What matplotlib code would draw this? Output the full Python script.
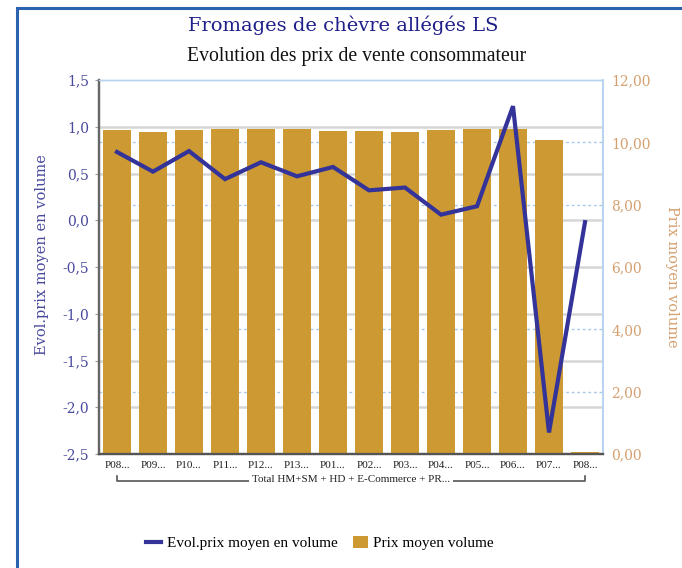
import matplotlib
matplotlib.use("Agg")
import matplotlib.pyplot as plt
import matplotlib.transforms as mtransforms
from matplotlib.patches import Rectangle, Patch
from matplotlib.lines import Line2D

# donnees
periodes = ["P08...", "P09...", "P10...", "P11...", "P12...", "P13...", "P01...",
            "P02...", "P03...", "P04...", "P05...", "P06...", "P07...", "P08..."]
prix_moyen = [10.39, 10.33, 10.39, 10.43, 10.43, 10.43, 10.36,
              10.36, 10.33, 10.39, 10.43, 10.43, 10.07, 0.05]
evol_prix = [0.73, 0.52, 0.74, 0.44, 0.62, 0.47, 0.57,
             0.32, 0.35, 0.06, 0.15, 1.22, -2.27, -0.02]
ticks_gauche = [1.5, 1.0, 0.5, 0.0, -0.5, -1.0, -1.5, -2.0, -2.5]
ticks_droite = [0, 2, 4, 6, 8, 10, 12]
groupe = "Total HM+SM + HD + E-Commerce + PR..."

c_barre = "#cc9933"
c_ligne = "#333399"
c_gauche = "#4a4a9e"
c_droite = "#d4a070"

fig = plt.figure(figsize=(6.82, 5.68), dpi=100)

# cadre bleu
fig.patches.append(Rectangle((17 / 682, -0.05), 1.0, 1 - 8 / 568 + 0.05,
                             transform=fig.transFigure, fill=False,
                             edgecolor="#2a62b0", linewidth=2.2))

pos = [99 / 682, (568 - 454) / 568, (603 - 99) / 682, (454 - 80) / 568]
ax_b = fig.add_axes(pos)          # barres, axe de droite
ax_l = ax_b.twinx()               # ligne, axe de gauche

x = list(range(len(periodes)))
ax_b.bar(x, prix_moyen, width=0.8, color=c_barre, zorder=3)
ax_b.set_xlim(-0.5, len(periodes) - 0.5)
ax_b.set_ylim(0, 12)

ax_l.plot(x, evol_prix, color=c_ligne, linewidth=3, solid_joinstyle="miter")
ax_l.set_ylim(-2.5, 1.5)

# axe gauche pour la ligne
ax_l.yaxis.tick_left()
ax_l.yaxis.set_label_position("left")
ax_l.set_yticks(ticks_gauche)
ax_l.set_yticklabels([f"{v:.1f}".replace(".", ",") for v in ticks_gauche],
                     fontfamily="DejaVu Serif", fontsize=10, color=c_gauche)
ax_l.tick_params(axis="y", length=3, color="#999999", pad=4)

# axe droit pour les barres
ax_b.yaxis.tick_right()
ax_b.set_yticks(ticks_droite)
ax_b.set_yticklabels([f"{v:.2f}".replace(".", ",") for v in ticks_droite],
                     fontfamily="DejaVu Serif", fontsize=10, color=c_droite)
ax_b.tick_params(axis="y", length=0, pad=6)

# grilles : pointilles bleus (droite), gris plein (gauche) derriere les barres
for v in ticks_droite[1:-1]:
    ax_b.axhline(v, color="#a9c9ea", linewidth=1, linestyle=(0, (2, 2)), zorder=1)
tr = mtransforms.blended_transform_factory(ax_b.transAxes, ax_l.transData)
for v in ticks_gauche[1:-1]:
    ax_b.plot([0, 1], [v, v], transform=tr, color="#d6d6d6", linewidth=1.8, zorder=1)

ax_b.set_xticks(x)
ax_b.set_xticklabels(periodes, fontfamily="Liberation Serif", fontsize=8, color="#222222")
ax_b.tick_params(axis="x", length=0, pad=5)

for a in (ax_b, ax_l):
    a.spines["left"].set_color("#666666")
    a.spines["left"].set_linewidth(1.6)
    a.spines["bottom"].set_color("#555555")
    a.spines["bottom"].set_linewidth(1.6)
    a.spines["right"].set_color("#b7d3ef")
    a.spines["right"].set_linewidth(1.2)
    a.spines["top"].set_color("#b7d3ef")
    a.spines["top"].set_linestyle((0, (2, 1)))
    a.spines["top"].set_linewidth(1)

# etiquette de groupe avec crochet
trx = mtransforms.blended_transform_factory(ax_b.transData, ax_b.transAxes)
yb = -0.072
ax_b.plot([0, 0, 13, 13], [yb + 0.012, yb, yb, yb + 0.012], transform=trx,
          color="#555555", linewidth=1.2, clip_on=False)
ax_b.text(6.5, yb + 0.004, groupe, transform=trx, ha="center", va="center",
          fontfamily="Liberation Serif", fontsize=8, color="#222222",
          bbox=dict(facecolor="white", edgecolor="none", pad=2))

# titres
fig.text(343 / 682, 1 - 25 / 568, "Fromages de chèvre allégés LS", ha="center", va="center",
         fontfamily="DejaVu Serif", fontsize=14, color="#1f1f8a")
fig.text(357 / 682, 1 - 56 / 568, "Evolution des prix de vente consommateur", ha="center",
         va="center", fontfamily="Liberation Serif", fontsize=14.2, color="#111111")

fig.text(42 / 682, 1 - 255 / 568, "Evol.prix moyen en volume", rotation=90, ha="center",
         va="center", fontfamily="DejaVu Serif", fontsize=10.5, color=c_gauche)
fig.text(672 / 682, 1 - 277 / 568, "Prix moyen volume", rotation=270, ha="center",
         va="center", fontfamily="DejaVu Serif", fontsize=10.5, color=c_droite)

# legende
handles = [Line2D([0], [0], color=c_ligne, linewidth=3),
           Patch(facecolor=c_barre, edgecolor="none")]
fig.legend(handles, ["Evol.prix moyen en volume", "Prix moyen volume"],
           loc="center", bbox_to_anchor=(320 / 682, 1 - 543 / 568), ncol=2, frameon=False,
           prop={"family": "Liberation Serif", "size": 11}, handlelength=1.0,
           handleheight=0.9, columnspacing=1.0, handletextpad=0.35)

fig.savefig("out.png", dpi=100)
